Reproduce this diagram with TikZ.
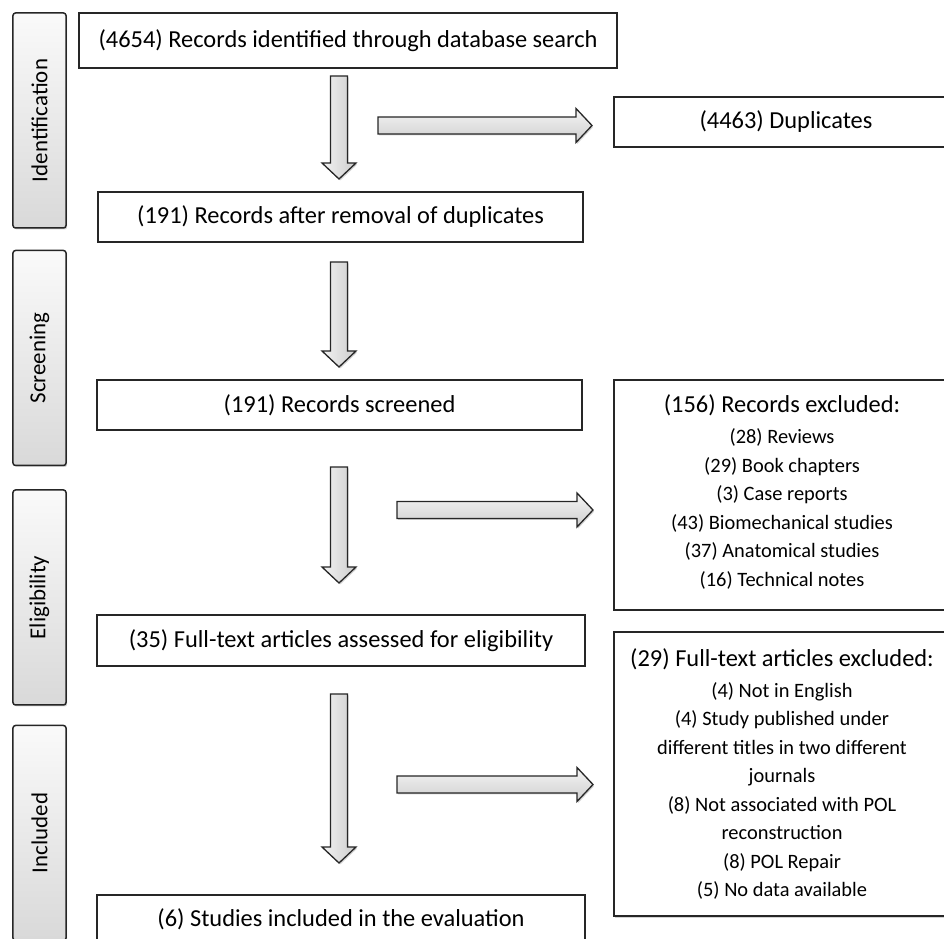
\documentclass[tikz,border=0pt]{standalone}
\usepackage{fontspec}
\setmainfont{Carlito}
\usetikzlibrary{shadows}
\tikzset{
  softshadow/.style={drop shadow={opacity=.35, shadow xshift=1.2bp, shadow yshift=-1.5bp}},
  stagebox/.style={draw=black!85, line width=1.5bp, rounded corners=2.5bp, top color=gray!4, bottom color=gray!30,
    minimum width=215bp, minimum height=53bp, inner sep=0pt, rotate=90, font=\fontsize{23}{25}\selectfont, softshadow},
  mainbox/.style={draw=black!85, line width=1.3bp, fill=white, minimum height=50bp, inner sep=0pt,
    font=\fontsize{24.5}{27}\selectfont, softshadow},
  exclbox/.style={draw=black!85, line width=1.3bp, fill=white, minimum width=336bp, inner sep=0pt, align=center,
    font=\fontsize{20.5}{28.6}\selectfont, softshadow},
  blockarrow/.style={draw=black!85, line width=1.3bp, softshadow},
}
% block arrows: x, y of tail, length
\newcommand{\downblock}[3]{%
  \draw[blockarrow, left color=gray!10, right color=gray!40, shift={(#1,#2)}]
    (-8.5,0) -- (8.5,0) -- (8.5,{16-#3}) -- (17,{16-#3}) -- (0,-#3) -- (-17,{16-#3}) -- (-8.5,{16-#3}) -- cycle;}
\newcommand{\rightblock}[3]{%
  \draw[blockarrow, top color=gray!8, bottom color=gray!38, shift={(#1,#2)}]
    (0,8.5) -- ({#3-16},8.5) -- ({#3-16},17) -- (#3,0) -- ({#3-16},-17) -- ({#3-16},-8.5) -- (0,-8.5) -- cycle;}

\begin{document}
\begin{tikzpicture}[x=1bp,y=1bp]
\useasboundingbox (0,0) rectangle (944,939);
%% stages
\node[stagebox] (st_ident) at (39.5,818.5) {Identification};
\node[stagebox] (st_screen) at (39.5,581) {Screening};
\node[stagebox] (st_elig) at (39.5,341.5) {Eligibility};
\node[stagebox] (st_incl) at (39.5,106) {Included};
%% main column
\node[mainbox, minimum width=538bp, minimum height=55bp] (found) at (348,898.5) {(4654) Records identified through database search};
\node[mainbox, minimum width=485bp] (dedup) at (340.5,722) {(191) Records after removal of duplicates};
\node[mainbox, minimum width=485bp] (screened) at (339.5,534) {(191) Records screened};
\node[mainbox, minimum width=488bp, minimum height=51bp] (fulltext) at (341,298.5) {(35) Full-text articles assessed for eligibility};
\node[mainbox, minimum width=488bp, minimum height=48bp] (included) at (341,20) {(6) Studies included in the evaluation};
%% right column
\node[mainbox, minimum width=344bp] (dupl) at (786,817) {(4463) Duplicates};
\node[exclbox, minimum height=230bp] (excl_rec) at (782,444) {{\fontsize{24.5}{27}\selectfont (156) Records excluded:}\\[2.5bp]
  (28) Reviews\\ (29) Book chapters\\ (3) Case reports\\ (43) Biomechanical studies\\ (37) Anatomical studies\\ (16) Technical notes\\[-20bp]\mbox{}};
\node[exclbox, minimum height=284bp] (excl_full) at (782,165) {{\fontsize{24.5}{27}\selectfont (29) Full-text articles excluded:}\\[2.5bp]
  (4) Not in English\\ (4) Study published under\\ different titles in two different\\ journals\\
  (8) Not associated with POL\\ reconstruction\\ (8) POL Repair\\ (5) No data available};
%% arrows
\downblock{339}{863}{103}
\downblock{339}{677}{105}
\downblock{339}{472}{116}
\downblock{339}{245}{169}
\rightblock{378}{813.5}{214}
\rightblock{397}{429}{196}
\rightblock{397}{154.5}{196}
%
\end{tikzpicture}
\end{document}
